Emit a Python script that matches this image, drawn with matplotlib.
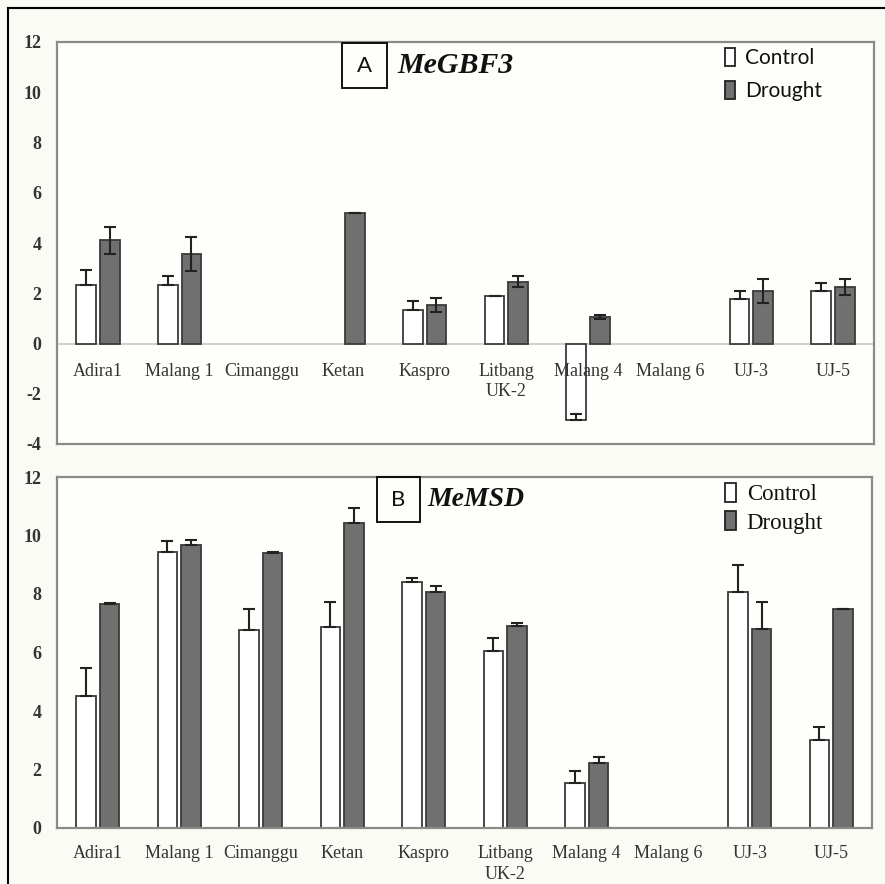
import matplotlib
matplotlib.use("Agg")
import matplotlib.pyplot as plt
import numpy as np
from matplotlib.patches import Rectangle, Patch
from matplotlib.lines import Line2D

nan = np.nan
categories = ["Adira1", "Malang 1", "Cimanggu", "Ketan", "Kaspro", "Litbang\nUK-2",
              "Malang 4", "Malang 6", "UJ-3", "UJ-5"]

# Panel A: MeGBF3 (nan = no bar shown)
a_control = [2.33, 2.34, nan, nan, 1.34, 1.88, -3.04, nan, 1.76, 2.08]
a_control_err = [0.58, 0.35, nan, nan, 0.34, 0.02, 0.22, nan, 0.34, 0.34]
a_drought = [4.10, 3.56, nan, 5.19, 1.55, 2.45, 1.06, nan, 2.10, 2.25]
a_drought_err = [0.55, 0.67, nan, 0.0, 0.28, 0.22, 0.07, nan, 0.47, 0.32]

# Panel B: MeMSD
b_control = [4.50, 9.45, 6.77, 6.87, 8.40, 6.05, 1.53, nan, 8.08, 3.01]
b_control_err = [0.96, 0.37, 0.71, 0.86, 0.13, 0.43, 0.43, nan, 0.91, 0.43]
b_drought = [7.66, 9.66, 9.41, 10.42, 8.08, 6.91, 2.23, nan, 6.79, 7.48]
b_drought_err = [0.02, 0.20, 0.02, 0.53, 0.20, 0.11, 0.21, nan, 0.93, 0.02]

W, H = 885, 884
fig = plt.figure(figsize=(W / 100, H / 100), dpi=100)
fig.patch.set_facecolor("#fbfbf6")

def ax_rect(l, r, t, b):
    return [l / W, 1 - b / H, (r - l) / W, (b - t) / H]

SERIF = ["Liberation Serif", "DejaVu Serif"]
SANS = ["Lato", "DejaVu Sans"]
DARK = "#707070"
FRAME = "#8a8a8a"
TXT = "#333333"

def draw_panel(ax, ctrl, cerr, drt, derr, sym_drought, ylim, yticks):
    x = np.arange(len(categories))
    w = 0.24
    off = 0.145
    ctrl = np.array(ctrl, dtype=float)
    drt = np.array(drt, dtype=float)
    cerr = np.nan_to_num(np.array(cerr, dtype=float))
    derr = np.nan_to_num(np.array(derr, dtype=float))
    ax.set_facecolor("#fefefb")
    mc = ~np.isnan(ctrl)
    md = ~np.isnan(drt)
    ax.bar(x[mc] - off, ctrl[mc], w, color="white", edgecolor="#3a3a3a", linewidth=1.3, zorder=2)
    ax.bar(x[md] + off, drt[md], w, color=DARK, edgecolor="#3a3a3a", linewidth=1.3, zorder=2)
    ax.errorbar(x[mc] - off, ctrl[mc], yerr=[np.zeros(mc.sum()), cerr[mc]], fmt="none",
                ecolor="#222222", elinewidth=1.5, capsize=4, capthick=1.5, zorder=3)
    lower = derr[md] if sym_drought else np.zeros(md.sum())
    ax.errorbar(x[md] + off, drt[md], yerr=[lower, derr[md]], fmt="none",
                ecolor="#222222", elinewidth=1.5, capsize=4, capthick=1.5, zorder=3)
    ax.set_xlim(-0.5, len(x) - 0.5)
    ax.set_ylim(*ylim)
    ax.set_yticks(yticks)
    ax.set_yticklabels([str(t) for t in yticks], fontfamily=SERIF, fontsize=13,
                       color=TXT, fontweight="bold")
    ax.tick_params(axis="y", length=0, pad=11)
    ax.tick_params(axis="x", length=0)
    for s in ax.spines.values():
        s.set_color(FRAME)
        s.set_linewidth(1.6)
    return x

# Panel A
axA = fig.add_axes(ax_rect(57, 874, 42, 444))
x = draw_panel(axA, a_control, a_control_err, a_drought, a_drought_err, True, (-4, 12),
               list(range(-4, 13, 2)))
axA.axhline(0, color="#c8c8c8", linewidth=1.2, zorder=1)
axA.set_xticks([])
for i, c in enumerate(categories):
    axA.annotate(c, xy=(i, 0), xytext=(0, -19), textcoords="offset pixels",
                 ha="center", va="top", fontfamily=SERIF, fontsize=13, color=TXT,
                 linespacing=1.3, zorder=4)

# Panel B
axB = fig.add_axes(ax_rect(57, 872, 477, 828))
draw_panel(axB, b_control, b_control_err, b_drought, b_drought_err, False, (0, 12),
           list(range(0, 13, 2)))
axB.set_xticks(x)
axB.set_xticklabels(categories, fontfamily=SERIF, fontsize=13, color=TXT, linespacing=1.3)
axB.tick_params(axis="x", pad=12)

# Title boxes
def title_box(l, r, t, b, letter, gene, gx, gsize):
    fig.add_artist(Rectangle((l / W, 1 - b / H), (r - l) / W, (b - t) / H,
                             transform=fig.transFigure, facecolor="none",
                             edgecolor="black", linewidth=1.3))
    fig.text((l + r) / 2 / W, 1 - (t + b) / 2 / H, letter, ha="center", va="center",
             fontfamily=SANS, fontsize=16, color="#111111")
    fig.text(gx / W, 1 - (t + b) / 2 / H, gene, ha="left", va="center",
             fontfamily=SERIF, fontsize=gsize, fontstyle="italic", fontweight="bold",
             color="#111111")

title_box(342, 387, 43, 88, "A", "MeGBF3", 397, 21.5)
title_box(377, 420, 477, 522, "B", "MeMSD", 427, 20)

# Legends
handles = [Patch(facecolor="white", edgecolor="#222222", linewidth=1.3),
           Patch(facecolor=DARK, edgecolor="#222222", linewidth=1.3)]
legA = axA.legend(handles, ["Control", "Drought"], loc="upper left",
                  bbox_to_anchor=(725 / W, 1 - 48 / H), bbox_transform=fig.transFigure,
                  frameon=False, prop={"family": SANS, "size": 15},
                  handlelength=0.5, handleheight=0.95, handletextpad=0.45,
                  labelspacing=0.6, borderpad=0, borderaxespad=0)
for t in legA.get_texts():
    t.set_color("#111111")
legB = axB.legend(handles, ["Control", "Drought"], loc="upper left",
                  bbox_to_anchor=(725 / W, 1 - 483 / H), bbox_transform=fig.transFigure,
                  frameon=False, prop={"family": SERIF, "size": 16.5},
                  handlelength=0.5, handleheight=0.9, handletextpad=0.45,
                  labelspacing=0.25, borderpad=0, borderaxespad=0)
for t in legB.get_texts():
    t.set_color("#111111")

# Outer frame lines
fig.add_artist(Line2D([8 / W, 8 / W], [0, 1 - 8 / H], transform=fig.transFigure,
                      color="black", linewidth=1.5))
fig.add_artist(Line2D([8 / W, 1], [1 - 8 / H, 1 - 8 / H], transform=fig.transFigure,
                      color="black", linewidth=1.5))

fig.savefig("out.png", dpi=100, facecolor=fig.get_facecolor())
